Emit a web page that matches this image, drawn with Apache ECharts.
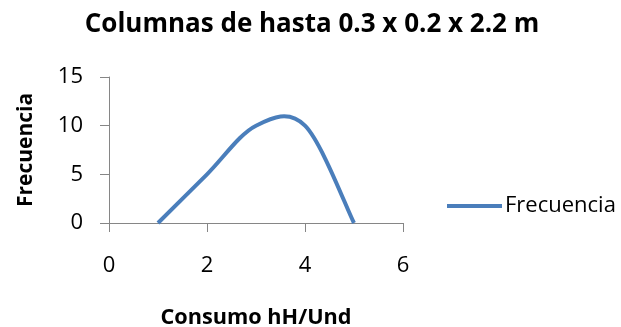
<!DOCTYPE html>
<html>
<head>
<meta charset="utf-8">
<script src="https://cdn.jsdelivr.net/npm/echarts@6/dist/echarts.min.js"></script>
<style>
  html, body { margin: 0; padding: 0; background: #fff; }
  #chart { width: 621px; height: 327px; }
</style>
</head>
<body>
<div id="chart"></div>
<script>
// Consumo (hH/Und) and frequency of each value
const consumo = [1, 2, 3, 4, 5];
const frecuencia = [0, 5, 10, 10, 0];
const xTicks = [0, 2, 4, 6];
const yTicks = [0, 5, 10, 15];

const LINE_COLOR = '#4A7EBB';
const FONT = '"Open Sans", "Liberation Sans", sans-serif';

const chart = echarts.init(document.getElementById('chart'), null, { renderer: 'canvas' });

// Smoothed curve through the points: cubic Bezier segments whose control
// points follow the neighbouring points (Catmull-Rom style, factor 1/6).
function renderCurve(params, api) {
  if (params.dataIndex !== 0) return null;
  const pts = consumo.map((x, i) => api.coord([x, frecuencia[i]]));
  const n = pts.length;
  let d = 'M' + pts[0][0] + ' ' + pts[0][1];
  for (let i = 0; i < n - 1; i++) {
    const p0 = pts[Math.max(i - 1, 0)];
    const p1 = pts[i];
    const p2 = pts[i + 1];
    const p3 = pts[Math.min(i + 2, n - 1)];
    const c1x = p1[0] + (p2[0] - p0[0]) / 6;
    const c1y = p1[1] + (p2[1] - p0[1]) / 6;
    const c2x = p2[0] - (p3[0] - p1[0]) / 6;
    const c2y = p2[1] - (p3[1] - p1[1]) / 6;
    d += ' C' + c1x + ' ' + c1y + ' ' + c2x + ' ' + c2y + ' ' + p2[0] + ' ' + p2[1];
  }
  return {
    type: 'path',
    shape: { pathData: d },
    style: { fill: null, stroke: LINE_COLOR, lineWidth: 4, lineCap: 'butt', lineJoin: 'round' }
  };
}

chart.setOption({
  animation: false,
  backgroundColor: '#ffffff',
  title: {
    text: 'Columnas de hasta 0.3 x 0.2 x 2.2 m',
    left: 307,
    textAlign: 'center',
    top: 7,
    textStyle: { fontFamily: FONT, fontSize: 26, fontWeight: 'bold', color: '#000' }
  },
  legend: {
    left: 442,
    top: 190,
    icon: 'rect',
    itemWidth: 55,
    itemHeight: 4,
    data: [{ name: 'Frecuencia', icon: 'rect' }],
    textStyle: { fontFamily: FONT, fontSize: 22, color: '#000', padding: [0, 0, 0, -2] }
  },
  grid: { left: 109, top: 77, width: 294, height: 146, outerBoundsMode: 'none', containLabel: false },
  xAxis: {
    type: 'value',
    min: xTicks[0],
    max: xTicks[xTicks.length - 1],
    interval: 2,
    name: 'Consumo hH/Und',
    nameLocation: 'middle',
    nameGap: 84,
    nameTextStyle: { fontFamily: FONT, fontSize: 21.7, fontWeight: 'bold', color: '#000' },
    axisLine: { onZero: false, lineStyle: { color: '#868686', width: 1 } },
    axisTick: { show: true, inside: false, length: 9, lineStyle: { color: '#868686' } },
    axisLabel: { fontFamily: FONT, fontSize: 22, color: '#000', margin: 32 },
    splitLine: { show: false }
  },
  yAxis: {
    type: 'value',
    min: yTicks[0],
    max: yTicks[yTicks.length - 1],
    interval: 5,
    name: 'Frecuencia',
    nameLocation: 'middle',
    nameGap: 72,
    nameTextStyle: { fontFamily: FONT, fontSize: 21, fontWeight: 'bold', color: '#000' },
    axisLine: { show: true, lineStyle: { color: '#868686', width: 1 } },
    axisTick: { show: true, inside: false, length: 9, lineStyle: { color: '#868686' } },
    axisLabel: { fontFamily: FONT, fontSize: 22, color: '#000', margin: 26 },
    splitLine: { show: false }
  },
  series: [{
    type: 'custom',
    name: 'Frecuencia',
    coordinateSystem: 'cartesian2d',
    itemStyle: { color: LINE_COLOR },
    renderItem: renderCurve,
    encode: { x: 0, y: 1 },
    data: consumo.map((x, i) => [x, frecuencia[i]]),
    clip: false
  }]
});
</script>
</body>
</html>
